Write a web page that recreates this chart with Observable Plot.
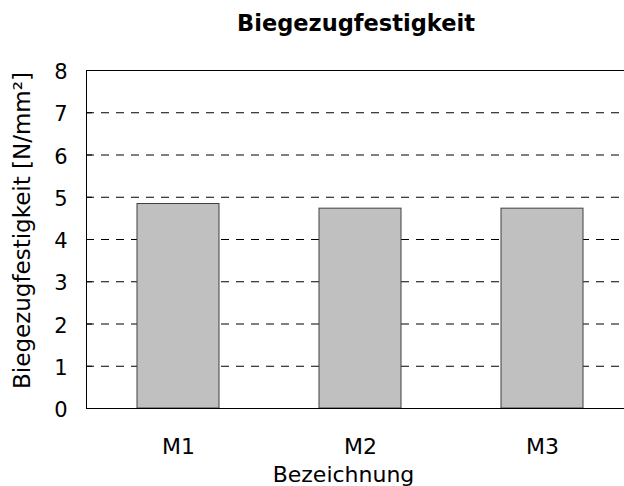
<!DOCTYPE html>
<html><head><meta charset="utf-8">
<script src="https://cdn.jsdelivr.net/npm/d3@7"></script>
<script src="https://cdn.jsdelivr.net/npm/@observablehq/plot@0.6"></script>
<style>html,body{margin:0;padding:0;overflow:hidden;background:#fff;width:624px;height:486px}
svg{max-width:none !important;display:block}</style>
</head><body><div id="chart"></div>
<script>
const categories = ["M1", "M2", "M3"];
const values = [4.84, 4.73, 4.73];
const yTicks = [0, 1, 2, 3, 4, 5, 6, 7, 8];
const gridTicks = [1, 2, 3, 4, 5, 6, 7];
const title = "Biegezugfestigkeit";
const yLabel = "Biegezugfestigkeit [N/mm²]";
const xLabel = "Bezeichnung";
const data = categories.map((c, i) => ({cat: c, value: values[i]}));

const font = "'DejaVu Sans', sans-serif";
const plot = Plot.plot({
  width: 634, height: 486,
  marginTop: 70, marginBottom: 78, marginLeft: 86, marginRight: 0,
  style: {fontFamily: font, fontSize: "21px", color: "#000", background: "#fff"},
  x: {domain: categories, paddingInner: 0.55, paddingOuter: 0.275, label: null},
  y: {domain: [0, 8], label: null},
  marks: [
    Plot.ruleY(gridTicks, {stroke: "#000", strokeDasharray: "8,7", strokeWidth: 1}),
    Plot.barY(data, {x: "cat", y: "value", fill: "#c0c0c0", stroke: "#404040", strokeWidth: 1}),
    Plot.ruleY([8], {stroke: "#000"}),
    Plot.ruleY([0], {stroke: "#000"}),
    Plot.frame({anchor: "left", stroke: "#000"}),
    Plot.axisY({ticks: yTicks, tickSize: -6, tickFormat: () => "", label: null, stroke: "#000"}),
    Plot.axisY({ticks: yTicks, tickSize: 0, tickPadding: 19, dy: 2, label: null, fontSize: 21}),
    Plot.axisX({tickSize: 0, tickPadding: 30, label: null, fontSize: 22}),
    Plot.text([title], {frameAnchor: "top", textAnchor: "middle", lineAnchor: "middle", dy: -47, dx: -4.5, fontWeight: "bold", fontSize: 22.5}),
    Plot.text([yLabel], {frameAnchor: "left", textAnchor: "middle", lineAnchor: "middle", dx: -64, dy: -9, rotate: -90, fontSize: 23}),
    Plot.text([xLabel], {frameAnchor: "bottom", textAnchor: "middle", lineAnchor: "middle", dy: 66, dx: -17, fontSize: 22})
  ]
});
document.getElementById("chart").append(plot);
</script></body></html>
